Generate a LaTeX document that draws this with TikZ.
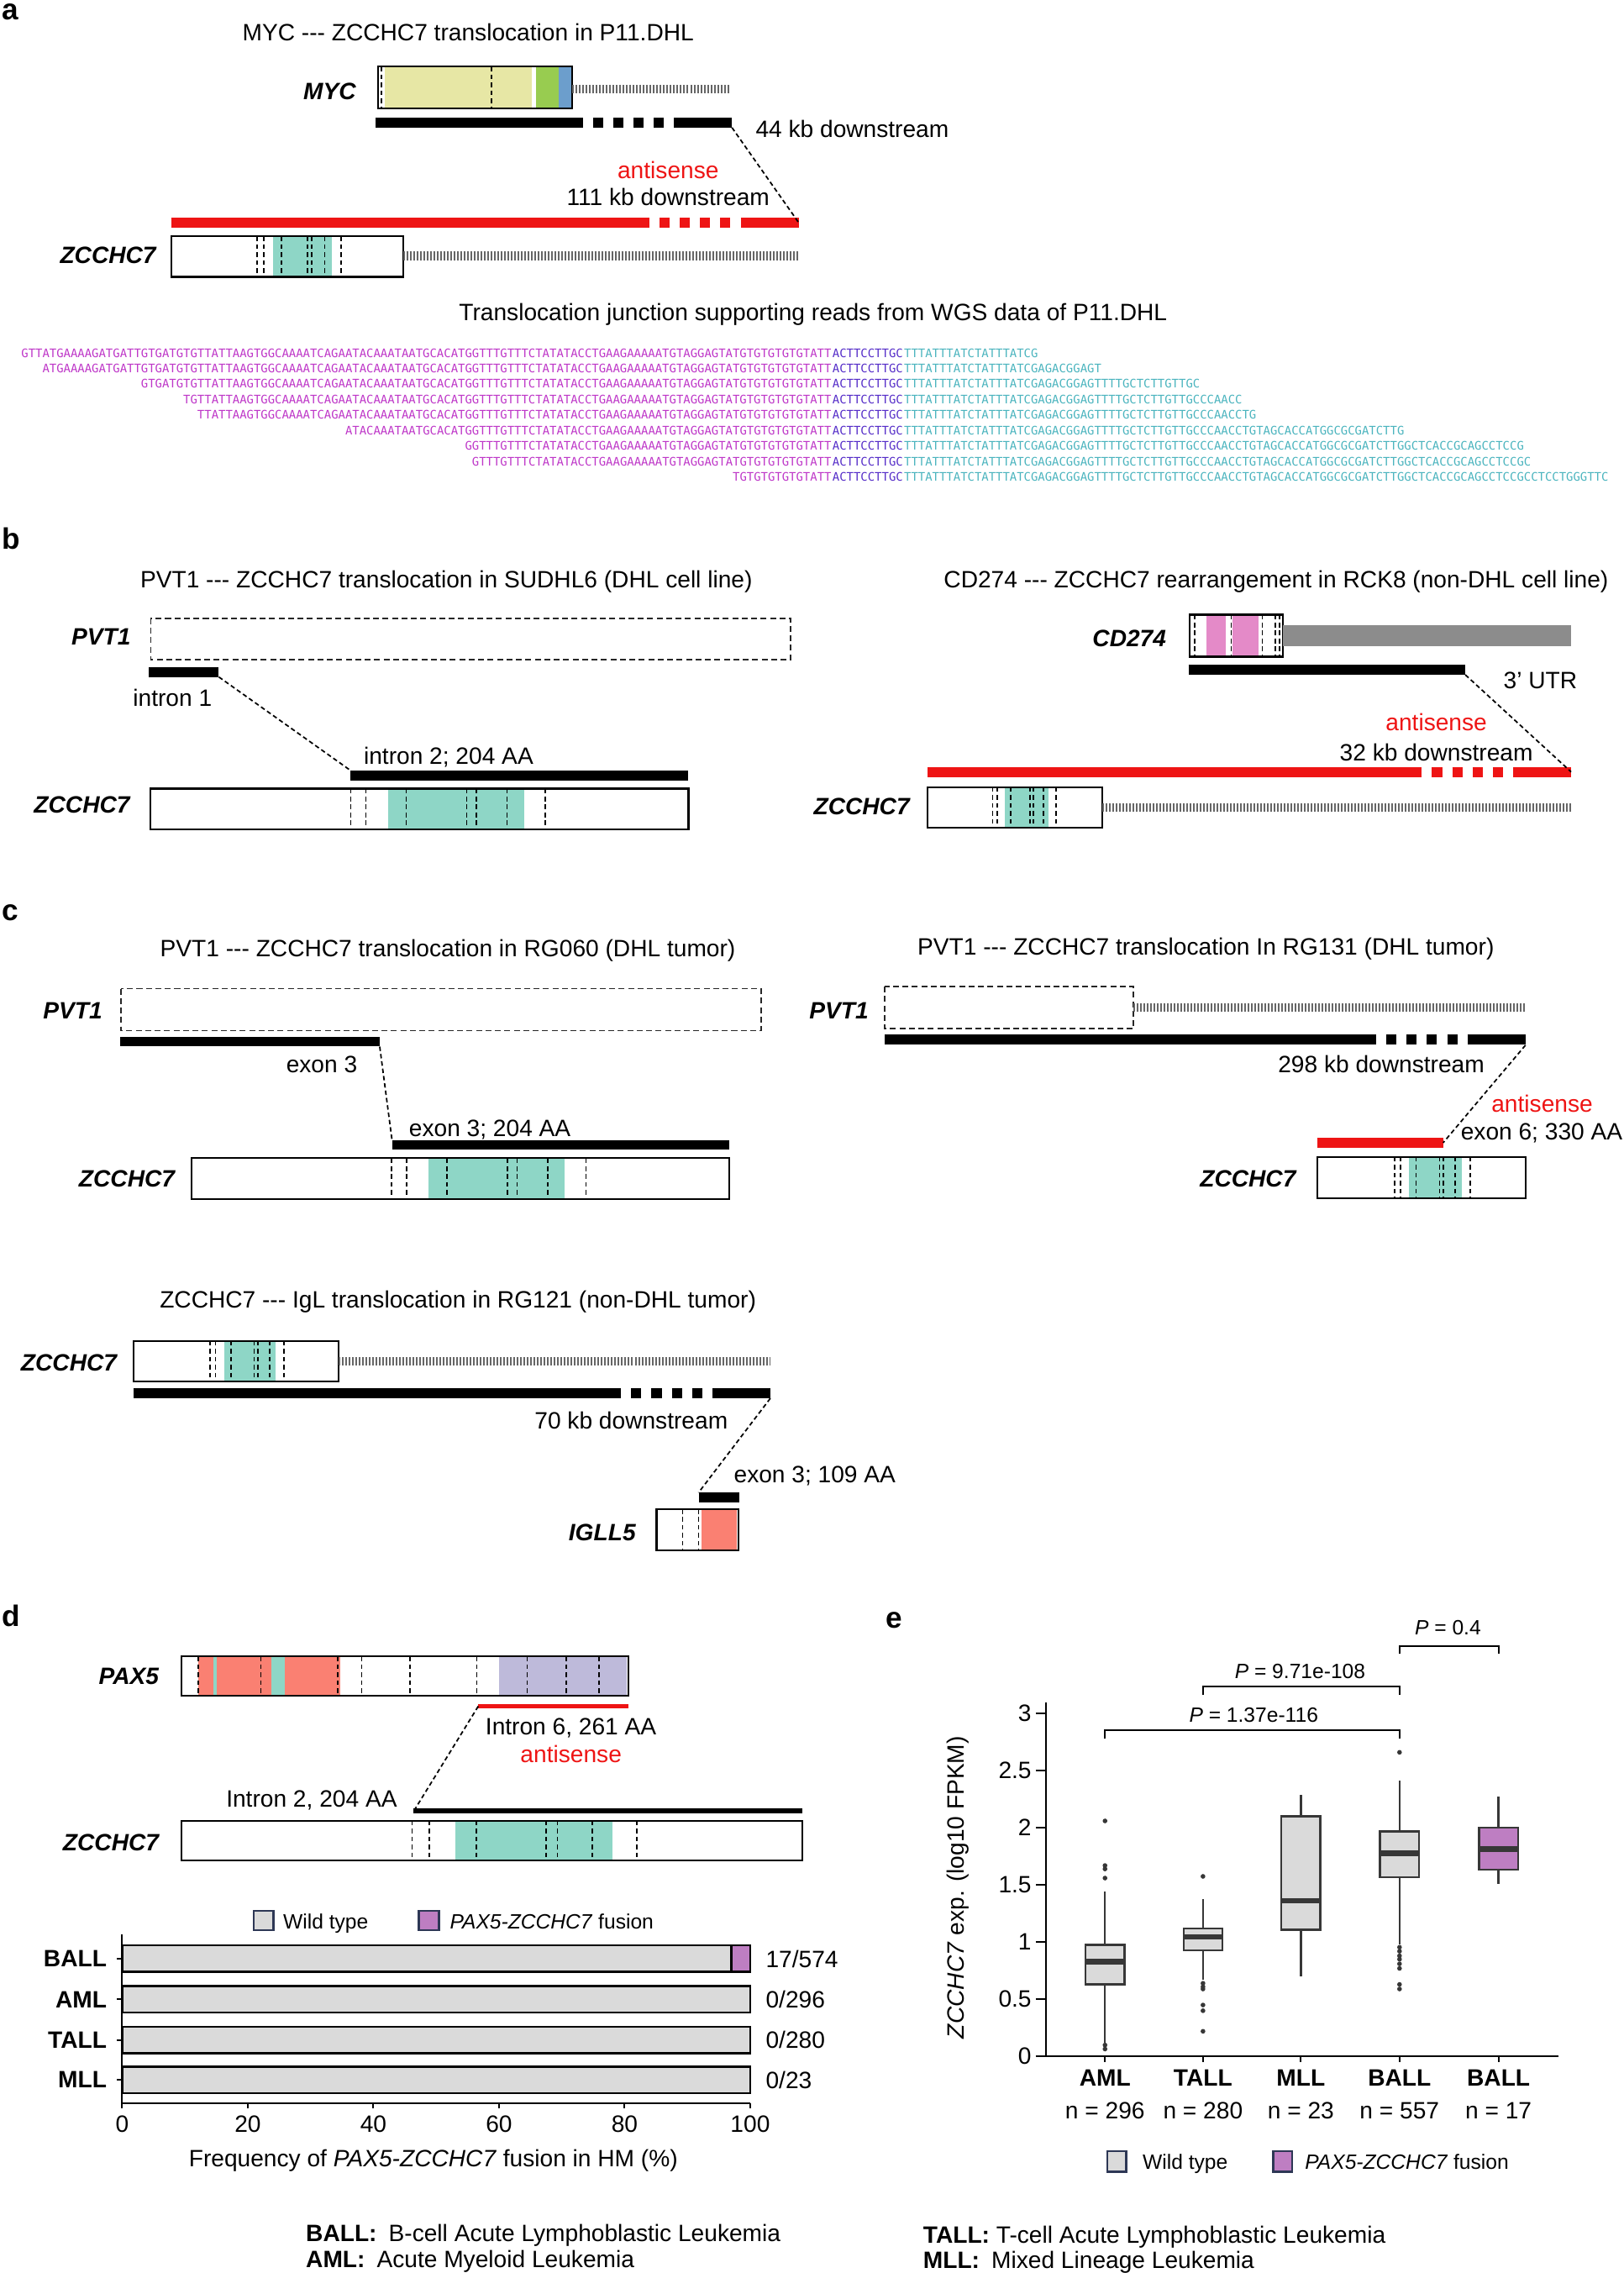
\documentclass[tikz,border=0pt]{standalone}
\usepackage{fontspec}
\setmainfont{Liberation Sans}
\newfontfamily\seqfont{DejaVu Sans Mono}
\definecolor{zfteal}{RGB}{142,214,198}
\definecolor{mycyellow}{RGB}{231,231,165}
\definecolor{mycgreen}{RGB}{152,204,80}
\definecolor{mycblue}{RGB}{108,158,204}
\definecolor{cdpink}{RGB}{228,138,200}
\definecolor{utrgray}{RGB}{140,140,140}
\definecolor{igsalmon}{RGB}{250,128,114}
\definecolor{paxlav}{RGB}{190,186,218}
\definecolor{fusred}{RGB}{238,20,20}
\definecolor{wtgray}{RGB}{218,218,218}
\definecolor{fuspurple}{RGB}{190,126,194}
\definecolor{seqmag}{RGB}{190,55,200}
\definecolor{seqblue}{RGB}{85,45,200}
\definecolor{seqcyan}{RGB}{75,180,190}
\definecolor{legedge}{RGB}{45,55,85}
\definecolor{boxedge}{RGB}{55,55,55}
\newcommand{\lbl}{\fontsize{8}{9.6}\selectfont}
\newcommand{\smlbl}{\fontsize{7}{8.4}\selectfont}
\newcommand{\dashes}{-{}-{}-}
\newcommand{\seqM}{GTTATGAAAAGATGATTGTGATGTGTTATTAAGTGGCAAAATCAGAATACAAATAATGCACATGGTTTGTTTCTATATACCTGAAGAAAAATGTAGGAGTATGTGTGTGTGTATT}
\tikzset{
  panel/.style={font=\fontsize{10}{12}\selectfont\bfseries, anchor=base west, inner sep=0},
  txt/.style={font=\lbl, inner sep=0},
  legtxt/.style={font=\smlbl, inner sep=0, anchor=base west},
  ptxt/.style={font=\smlbl, inner sep=0, anchor=base},
  gene/.style={font=\lbl\bfseries\itshape, anchor=base east, inner sep=0},
  seqtxt/.style={font=\seqfont\fontsize{3.96}{4.2}\selectfont, inner sep=0},
  genebox/.style={draw=black, line width=0.6pt},
  pvtbox/.style={draw=black!85, line width=0.5pt, dash pattern=on 2pt off 1.2pt},
  exonline/.style={black, line width=0.5pt, dash pattern=on 1.6pt off 1.1pt},
  joinline/.style={black, line width=0.5pt, dash pattern=on 1.5pt off 1pt},
  blackbar/.style={black, line width=3.4pt},
  redbar/.style={fusred, line width=3.4pt},
  blackthin/.style={black, line width=1.7pt},
  redthin/.style={fusred, line width=1.5pt},
  combline/.style={black!60, line width=3pt, dash pattern=on 0.569pt off 0.569pt},
  legbox/.style={draw=legedge, line width=0.7pt},
  barst/.style={draw=black, line width=0.7pt, fill=wtgray},
  axisst/.style={black, line width=0.6pt},
  boxst/.style={draw=boxedge, line width=0.7pt},
  whisk/.style={boxedge, line width=0.7pt},
  medst/.style={boxedge, line width=1.8pt},
  brk/.style={black, line width=0.6pt}
}
\newcommand{\zcbox}[4]{%
  \fill[zfteal] ({#1+0.441*#3},#2) rectangle ({#1+0.694*#3},{#2+#4});
  \foreach \f in {0.372,0.4,0.475,0.5875,0.606,0.6625,0.734}
    \draw[exonline] ({#1+\f*#3},#2) -- ({#1+\f*#3},{#2+#4});
  \draw[genebox] (#1,#2) rectangle ({#1+#3},{#2+#4});
}
\newcommand{\gapbar}[4]{%
  \draw[#1] (#2,#4) -- ({#3-103},#4);
  \foreach \d in {96,82,68,54} \draw[#1] ({#3-\d},#4) -- ({#3-\d+7},#4);
  \draw[#1] ({#3-40},#4) -- (#3,#4);
}
\newcommand{\seqread}[4]{%
  \node[seqtxt, anchor=base east, text=seqmag] (#1m) at (574,#2) {#3};
  \node[seqtxt, anchor=base west, text=seqblue] (#1b) at (574,#2) {ACTTCCTTGC};
  \node[seqtxt, anchor=base west, text=seqcyan] (#1c) at (#1b.base east) {#4};
}
\newcommand{\bplot}[7]{%
  \draw[whisk] (#1,#2) -- (#1,#3) (#1,#5) -- (#1,#6);
  \draw[boxst, fill=#7] ({#1-13.4},#3) rectangle ({#1+13.4},#5);
  \draw[medst] ({#1-13.4},#4) -- ({#1+13.4},#4);
}

\begin{document}
\begin{tikzpicture}[x=0.01725cm, y=-0.01725cm]
  \useasboundingbox (0,0) rectangle (1120,1568);

  \node[panel] (pa) at (1,13.5) {a};
  \node[txt, anchor=base] (titA) at (323,28.4) {MYC \dashes{} ZCCHC7 translocation in P11.DHL};
  \node[gene] (mycLab) at (246,68.5) {MYC};
  \fill[mycyellow] (265.5,46) rectangle (367,75);
  \fill[mycgreen] (370,46) rectangle (385.6,75);
  \fill[mycblue] (385.6,46) rectangle (394,75);
  \draw[exonline] (263,46) -- (263,75) (339,46) -- (339,75);
  \draw[genebox] (261,46) rectangle (395,75);
  \draw[combline] (395,61.5) -- (503,61.5);
  \gapbar{blackbar}{259}{505}{84.5}
  \node[txt, anchor=base west] (kb44) at (521,94.5) {44 kb downstream};
  \node[txt, anchor=base, text=fusred] (antiA) at (461,123) {antisense};
  \node[txt, anchor=base] (kb111) at (461,142) {111 kb downstream};
  \gapbar{redbar}{118}{551}{153.5}
  \coordinate (mycJ) at (505,88);
  \coordinate (zcJa) at (551,153.5);
  \draw[joinline] (mycJ) -- (zcJa);
  \node[gene] (zcLabA) at (108,181.6) {ZCCHC7};
  \zcbox{118}{163}{160}{28}
  \draw[combline] (278,176.5) -- (551,176.5);
  \node[txt, anchor=base] (seqTit) at (561,221) {Translocation junction supporting reads from WGS data of P11.DHL};

  \seqread{r1}{246.4}{\seqM}{TTTATTTATCTATTTATCG}
  \seqread{r2}{257.1}{ATGAAAAGATGATTGTGATGTGTTATTAAGTGGCAAAATCAGAATACAAATAATGCACATGGTTTGTTTCTATATACCTGAAGAAAAATGTAGGAGTATGTGTGTGTGTATT}{TTTATTTATCTATTTATCGAGACGGAGT}
  \seqread{r3}{267.8}{GTGATGTGTTATTAAGTGGCAAAATCAGAATACAAATAATGCACATGGTTTGTTTCTATATACCTGAAGAAAAATGTAGGAGTATGTGTGTGTGTATT}{TTTATTTATCTATTTATCGAGACGGAGTTTTGCTCTTGTTGC}
  \seqread{r4}{278.5}{TGTTATTAAGTGGCAAAATCAGAATACAAATAATGCACATGGTTTGTTTCTATATACCTGAAGAAAAATGTAGGAGTATGTGTGTGTGTATT}{TTTATTTATCTATTTATCGAGACGGAGTTTTGCTCTTGTTGCCCAACC}
  \seqread{r5}{289.2}{TTATTAAGTGGCAAAATCAGAATACAAATAATGCACATGGTTTGTTTCTATATACCTGAAGAAAAATGTAGGAGTATGTGTGTGTGTATT}{TTTATTTATCTATTTATCGAGACGGAGTTTTGCTCTTGTTGCCCAACCTG}
  \seqread{r6}{299.9}{ATACAAATAATGCACATGGTTTGTTTCTATATACCTGAAGAAAAATGTAGGAGTATGTGTGTGTGTATT}{TTTATTTATCTATTTATCGAGACGGAGTTTTGCTCTTGTTGCCCAACCTGTAGCACCATGGCGCGATCTTG}
  \seqread{r7}{310.6}{GGTTTGTTTCTATATACCTGAAGAAAAATGTAGGAGTATGTGTGTGTGTATT}{TTTATTTATCTATTTATCGAGACGGAGTTTTGCTCTTGTTGCCCAACCTGTAGCACCATGGCGCGATCTTGGCTCACCGCAGCCTCCG}
  \seqread{r8}{321.3}{GTTTGTTTCTATATACCTGAAGAAAAATGTAGGAGTATGTGTGTGTGTATT}{TTTATTTATCTATTTATCGAGACGGAGTTTTGCTCTTGTTGCCCAACCTGTAGCACCATGGCGCGATCTTGGCTCACCGCAGCCTCCGC}
  \seqread{r9}{332}{TGTGTGTGTGTATT}{TTTATTTATCTATTTATCGAGACGGAGTTTTGCTCTTGTTGCCCAACCTGTAGCACCATGGCGCGATCTTGGCTCACCGCAGCCTCCGCCTCCTGGGTTC}

  \node[panel] (pb) at (1,378.6) {b};
  \node[txt, anchor=base] (titB1) at (308,405.5) {PVT1 \dashes{} ZCCHC7 translocation in SUDHL6 (DHL cell line)};
  \node[gene] (pvtLabB) at (90.5,445) {PVT1};
  \draw[pvtbox] (104,426.5) rectangle (545.6,455);
  \draw[blackbar] (102.6,463.5) -- (151,463.5);
  \node[txt, anchor=base] (int1) at (119,487) {intron 1};
  \coordinate (pvtJb) at (151,467);
  \coordinate (zcJb) at (242,531.6);
  \draw[joinline] (pvtJb) -- (zcJb);
  \node[txt, anchor=base] (int2) at (309.5,527) {intron 2; 204 AA};
  \draw[blackbar] (242,534.8) -- (475,534.8);
  \node[gene] (zcLabB) at (90,561) {ZCCHC7};
  \zcbox{104}{544}{371}{28}

  \node[txt, anchor=base] (titB2) at (880.5,405.5) {CD274 \dashes{} ZCCHC7 rearrangement in RCK8 (non-DHL cell line)};
  \node[gene] (cdLab) at (805,446) {CD274};
  \fill[cdpink] (832.5,424) rectangle (846,453);
  \fill[cdpink] (850.5,424) rectangle (868.5,453);
  \foreach \x in {824.3,849.5,871,880,883} \draw[exonline] (\x,424) -- (\x,453);
  \draw[genebox] (821,424) rectangle (885,453);
  \fill[utrgray] (885,431) rectangle (1084,446);
  \draw[blackbar] (820,462) -- (1011,462);
  \node[txt, anchor=base west] (utr) at (1037,475) {3’ UTR};
  \node[txt, anchor=base, text=fusred] (antiB) at (991,504) {antisense};
  \node[txt, anchor=base] (kb32) at (991,525) {32 kb downstream};
  \gapbar{redbar}{640}{1084}{532.5}
  \coordinate (cdJ) at (1011,465.5);
  \coordinate (zcJc) at (1084,532.5);
  \draw[joinline] (cdJ) -- (zcJc);
  \node[gene] (zcLabB2) at (628,562) {ZCCHC7};
  \zcbox{640}{543}{120.6}{28}
  \draw[combline] (760.6,557) -- (1084,557);

  \node[panel] (pc) at (1,635) {c};
  \node[txt, anchor=base] (titC1) at (309,660) {PVT1 \dashes{} ZCCHC7 translocation in RG060 (DHL tumor)};
  \node[gene] (pvtLabC) at (71,702.6) {PVT1};
  \draw[pvtbox] (83.5,682) rectangle (525,711);
  \draw[blackbar] (83,718.5) -- (262,718.5);
  \node[txt, anchor=base] (ex3) at (222,740) {exon 3};
  \coordinate (pvtJc) at (262,722);
  \coordinate (zcJd) at (270.5,786.6);
  \draw[joinline] (pvtJc) -- (zcJd);
  \node[txt, anchor=base] (ex3aa) at (338,784) {exon 3; 204 AA};
  \draw[blackbar] (270.5,789.8) -- (503,789.8);
  \node[gene] (zcLabC) at (121,819) {ZCCHC7};
  \zcbox{132}{799}{371}{28}

  \node[txt, anchor=base] (titC2) at (832,659) {PVT1 \dashes{} ZCCHC7 translocation In RG131 (DHL tumor)};
  \node[gene] (pvtLabC2) at (599.6,702.6) {PVT1};
  \draw[pvtbox] (610.5,680.6) rectangle (782,709.6);
  \draw[combline] (782,695) -- (1052.5,695);
  \gapbar{blackbar}{610.5}{1052.5}{717.2}
  \node[txt, anchor=base] (kb298) at (953,740) {298 kb downstream};
  \node[txt, anchor=base, text=fusred] (antiC) at (1064,767) {antisense};
  \node[txt, anchor=base west] (ex6) at (1007.5,786.6) {exon 6; 330 AA};
  \draw[redbar] (908.7,788.3) -- (995.7,788.3);
  \coordinate (pvtJd) at (1052.5,721);
  \coordinate (zcJe) at (995.7,788.3);
  \draw[joinline] (pvtJd) -- (zcJe);
  \node[gene] (zcLabC2) at (894.5,819) {ZCCHC7};
  \zcbox{908.7}{798}{143.8}{28.7}

  \node[txt, anchor=base] (titC3) at (316,902.5) {ZCCHC7 \dashes{} IgL translocation in RG121 (non-DHL tumor)};
  \node[gene] (zcLabC3) at (81,946) {ZCCHC7};
  \zcbox{92}{925}{141.8}{28}
  \draw[combline] (233.8,939) -- (531.5,939);
  \gapbar{blackbar}{92}{531.5}{961.3}
  \node[txt, anchor=base] (kb70) at (435.5,985.5) {70 kb downstream};
  \node[txt, anchor=base west] (ex3b) at (506,1023) {exon 3; 109 AA};
  \draw[blackbar] (482,1033) -- (510,1033);
  \coordinate (zcJf) at (531.5,964.6);
  \coordinate (igJ) at (482,1029.6);
  \draw[joinline] (zcJf) -- (igJ);
  \node[gene] (igLab) at (439,1062.6) {IGLL5};
  \fill[igsalmon] (484,1041) rectangle (508.4,1069.6);
  \foreach \x in {471,482} \draw[exonline] (\x,1041) -- (\x,1069.6);
  \draw[genebox] (453,1041) rectangle (509.6,1069.6);

  \node[panel] (pd) at (1,1122) {d};
  \node[gene] (paxLab) at (110,1162) {PAX5};
  \fill[igsalmon] (136.8,1142.6) rectangle (234.8,1170);
  \fill[zfteal] (147,1142.6) rectangle (149.3,1170);
  \fill[zfteal] (187,1142.6) rectangle (196.5,1170);
  \fill[paxlav] (344.6,1142.6) rectangle (432.7,1170);
  \foreach \x in {136.8,180,233,249.6,283,329,363.8,390.8,413.4} \draw[exonline] (\x,1142.6) -- (\x,1170);
  \draw[genebox] (125,1142.6) rectangle (433.7,1170);
  \draw[redthin] (330,1177) -- (433.7,1177);
  \node[txt, anchor=base west] (int6) at (334.6,1197) {Intron 6, 261 AA};
  \node[txt, anchor=base, text=fusred] (antiD) at (394,1216) {antisense};
  \node[txt, anchor=base] (int2d) at (215,1246.6) {Intron 2, 204 AA};
  \draw[blackthin] (285,1249.3) -- (553.4,1249.3);
  \coordinate (paxJ) at (330,1177);
  \coordinate (zcJg) at (285.5,1249.3);
  \draw[joinline] (paxJ) -- (zcJg);
  \node[gene] (zcLabD) at (110,1276.6) {ZCCHC7};
  \zcbox{125}{1256}{428.4}{27.5}

  \draw[legbox, fill=wtgray] (175,1318) rectangle (188.6,1331.6);
  \node[legtxt] (legWtD) at (195,1330.5) {Wild type};
  \draw[legbox, fill=fuspurple] (289,1318) rectangle (303,1331.6);
  \node[legtxt] (legFuD) at (310,1330.5) {\textit{PAX5-ZCCHC7} fusion};
  \foreach \cat/\yt/\a/\b in {BALL/1342/17/574,AML/1370/0/296,TALL/1398/0/280,MLL/1425.6/0/23}{
    \draw[barst] (84.3,\yt) rectangle (517.6,{\yt+18.3});
    \draw[axisst] (80.5,{\yt+9.2}) -- (84.3,{\yt+9.2});
    \node[txt, font=\lbl\bfseries, anchor=east] (bar\cat) at (74,{\yt+9.2}) {\cat};
    \node[txt, anchor=west] (frac\cat) at (528,{\yt+9.2}) {\a/\b};
  }
  \draw[barst, fill=fuspurple] (504.6,1342) rectangle (517.6,1360.3);
  \draw[axisst] (84.3,1334.6) -- (84.3,1451) -- (517.6,1451);
  \foreach \v [count=\k from 0] in {0,20,40,60,80,100}{
    \draw[axisst] ({84.3+86.66*\k},1451) -- ({84.3+86.66*\k},1454.5);
    \node[txt, anchor=base] (xt\k) at ({84.3+86.66*\k},1470.7) {\v};
  }
  \node[txt, anchor=base] (xtitD) at (299,1494.6) {Frequency of \textit{PAX5-ZCCHC7} fusion in HM (\%)};
  \node[txt, anchor=base west] (noteB) at (210.7,1546) {\textbf{BALL:}\enspace B-cell Acute Lymphoblastic Leukemia};
  \node[txt, anchor=base west] (noteA) at (210.7,1564) {\textbf{AML:}\enspace Acute Myeloid Leukemia};

  \node[panel] (pe) at (610.7,1123) {e};
  \draw[axisst] (721.6,1174.6) -- (721.6,1418.6) -- (1075,1418.6);
  \foreach \v [count=\k] in {0,0.5,1,1.5,2,2.5,3}{
    \draw[axisst] (714.7,{1418.6-78.87*\v}) -- (721.6,{1418.6-78.87*\v});
    \node[txt, anchor=east] (yt\k) at (712,{1418.6-78.87*\v}) {\v};
  }
  \node[txt, rotate=90] (yLab) at (661,1302) {\textit{ZCCHC7} exp. (log10 FPKM)};
  \foreach \cat/\nn/\cx [count=\i] in {AML/296/762.4,TALL/280/830,MLL/23/897.5,BALL/557/965.6,BALL/17/1033.9}{
    \draw[axisst] (\cx,1418.6) -- (\cx,1422.6);
    \node[txt, font=\lbl\bfseries, anchor=base] (cat\i) at (\cx,1439) {\cat};
    \node[txt, anchor=base] (num\i) at (\cx,1461.7) {n = \nn};
  }
  \begin{scope}[shift={(0,1418.6)}, yscale=-78.87]
    \bplot{762.4}{0.12}{0.63}{0.83}{0.975}{1.44}{wtgray}
    \bplot{830}{0.67}{0.93}{1.047}{1.12}{1.38}{wtgray}
    \bplot{897.5}{0.70}{1.108}{1.36}{2.10}{2.29}{wtgray}
    \bplot{965.6}{0.98}{1.567}{1.777}{1.968}{2.415}{wtgray}
    \bplot{1033.9}{1.51}{1.632}{1.815}{2.002}{2.27}{fuspurple}
  \end{scope}
  \foreach \cx/\v in {762.4/2.06,762.4/1.67,762.4/1.64,762.4/1.56,762.4/0.10,762.4/0.065,
      830/1.575,830/0.64,830/0.61,830/0.59,830/0.45,830/0.40,830/0.22,
      965.6/2.66,965.6/0.955,965.6/0.92,965.6/0.88,965.6/0.85,965.6/0.81,965.6/0.77,965.6/0.63,965.6/0.59}
    \fill[boxedge] (\cx,{1418.6-78.87*\v}) circle[radius=0.8pt];
  \draw[brk] (762.4,1199.5) -- (762.4,1193.6) -- (965.6,1193.6) -- (965.6,1199.5);
  \node[ptxt] (pv1) at (865,1188) {\textit{P} = 1.37e-116};
  \draw[brk] (830,1169.4) -- (830,1163.5) -- (965.6,1163.5) -- (965.6,1169.4);
  \node[ptxt] (pv2) at (897,1158) {\textit{P} = 9.71e-108};
  \draw[brk] (965.6,1141) -- (965.6,1135.8) -- (1033.9,1135.8) -- (1033.9,1141);
  \node[ptxt] (pv3) at (999,1128) {\textit{P} = 0.4};
  \draw[legbox, fill=wtgray] (764,1484) rectangle (777,1498);
  \node[legtxt] (legWtE) at (788,1496.5) {Wild type};
  \draw[legbox, fill=fuspurple] (878.6,1484) rectangle (891.6,1498);
  \node[legtxt] (legFuE) at (900,1496.5) {\textit{PAX5-ZCCHC7} fusion};
  \node[txt, anchor=base west] (noteT) at (636.6,1547.6) {\textbf{TALL:} T-cell Acute Lymphoblastic Leukemia};
  \node[txt, anchor=base west] (noteM) at (636.6,1565) {\textbf{MLL:}\enspace Mixed Lineage Leukemia};
\end{tikzpicture}
\end{document}
